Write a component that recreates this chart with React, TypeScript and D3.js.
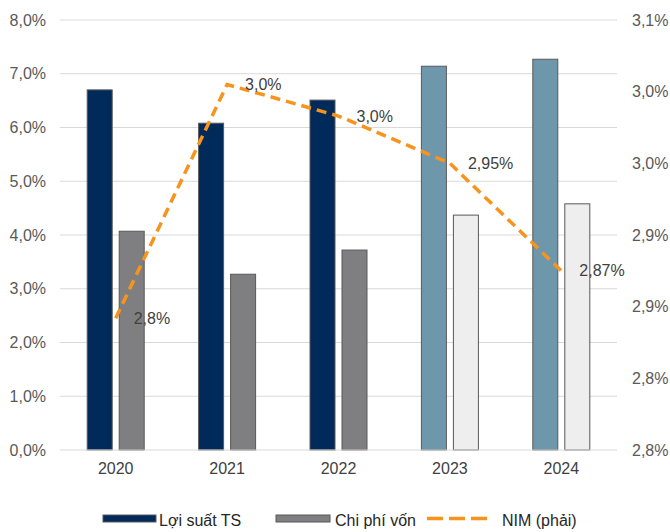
import React from "react";
import * as d3 from "d3";

const years = ["2020", "2021", "2022", "2023", "2024"];
const assetYield = [6.7, 6.08, 6.51, 7.14, 7.27];
const costOfFunds = [4.07, 3.27, 3.72, 4.37, 4.58];
const nim = [2.842, 3.005, 2.983, 2.95, 2.875];
const nimLabels = ["2,8%", "3,0%", "3,0%", "2,95%", "2,87%"];
const leftTicks = [0, 1, 2, 3, 4, 5, 6, 7, 8];
const rightTicks = [2.75, 2.8, 2.85, 2.9, 2.95, 3.0, 3.05];
const legendNames = ["Lợi suất TS", "Chi phí vốn", "NIM (phải)"];

const W = 670;
const H = 532;
const L = 60;
const R = 617;
const T = 20;
const B = 450;

const fmt1 = (v: number) => v.toFixed(1).replace(".", ",") + "%";

export default function App() {
  const x = d3.scaleBand<string>().domain(years).range([L, R]);
  const yL = d3.scaleLinear().domain([0, 8]).range([B, T]);
  const yR = d3.scaleLinear().domain([2.75, 3.05]).range([B, T]);
  const bw = 25;
  const gap = 7;
  const cx = (y: string) => (x(y) as number) + x.bandwidth() / 2;
  const line = d3
    .line<number>()
    .x((_, i) => cx(years[i]))
    .y((d) => yR(d));
  const font = "'Liberation Sans', Arial, sans-serif";
  const navy = (i: number) => (i < 3 ? "#002a5a" : "#6e97ab");
  const grey = (i: number) => (i < 3 ? "#7f7f82" : "#eeeeee");
  return (
    <svg
      width={W}
      height={H}
      style={{ position: "absolute", left: 0, top: 0, background: "#fff" }}
      fontFamily={font}
    >
      {leftTicks.map((t) => (
        <g key={"l" + t}>
          {t > 0 && (
            <line x1={L} x2={R} y1={yL(t)} y2={yL(t)} stroke="#d9d9d9" strokeWidth={1} />
          )}
          <text x={46} y={yL(t)} dy="0.35em" textAnchor="end" fontSize={16} fill="#595959">
            {fmt1(t)}
          </text>
        </g>
      ))}
      {rightTicks.map((t) => (
        <text key={"r" + t} x={632} y={yR(t)} dy="0.35em" textAnchor="start" fontSize={16} fill="#595959">
          {fmt1(Math.round(t * 10 + 1e-9) / 10)}
        </text>
      ))}
      {years.map((yr, i) => (
        <g key={yr}>
          <rect
            x={cx(yr) - gap / 2 - bw}
            y={yL(assetYield[i])}
            width={bw}
            height={B - yL(assetYield[i])}
            fill={navy(i)}
            stroke="#595959"
            strokeWidth={1}
          />
          <rect
            x={cx(yr) + gap / 2}
            y={yL(costOfFunds[i])}
            width={bw}
            height={B - yL(costOfFunds[i])}
            fill={grey(i)}
            stroke="#595959"
            strokeWidth={1}
          />
          <text x={cx(yr)} y={468} dy="0.35em" textAnchor="middle" fontSize={16} fill="#404040">
            {yr}
          </text>
        </g>
      ))}
      <line x1={L} x2={R} y1={B} y2={B} stroke="#d9d9d9" strokeWidth={1} />
      <path
        d={line(nim) || ""}
        fill="none"
        stroke="#f7941d"
        strokeWidth={3.5}
        strokeDasharray="10,6"
      />
      {years.map((yr, i) => (
        <text
          key={"n" + yr}
          x={cx(yr) + 18}
          y={yR(nim[i])}
          dy="0.35em"
          fontSize={16}
          fill="#404040"
        >
          {nimLabels[i]}
        </text>
      ))}
      <g fontSize={16} fill="#262626">
        <rect x={103} y={515} width={53} height={7} fill="#002a5a" stroke="#595959" strokeWidth={1} />
        <text x={159} y={520} dy="0.35em">{legendNames[0]}</text>
        <rect x={276} y={515} width={54} height={7} fill="#7f7f82" stroke="#595959" strokeWidth={1} />
        <text x={335} y={520} dy="0.35em">{legendNames[1]}</text>
        <line x1={427} x2={487} y1={518.5} y2={518.5} stroke="#f7941d" strokeWidth={3.5} strokeDasharray="16,6" />
        <text x={502} y={520} dy="0.35em">{legendNames[2]}</text>
      </g>
    </svg>
  );
}
